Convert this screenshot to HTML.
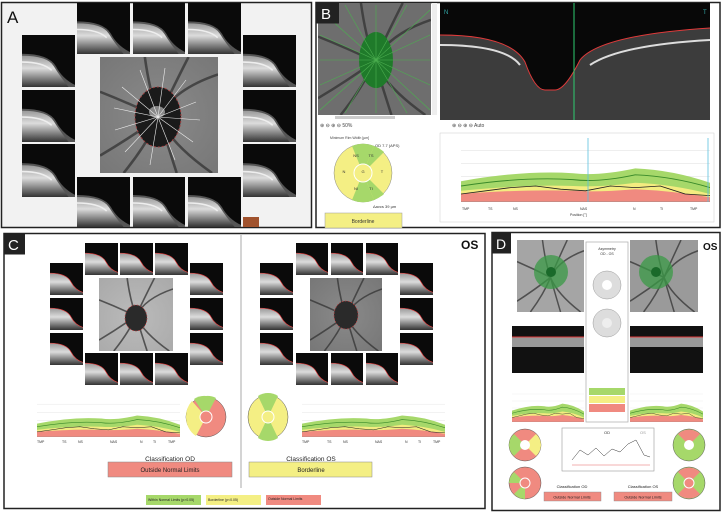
<!DOCTYPE html>
<html><head><meta charset="utf-8"><style>
html,body{margin:0;padding:0;background:#fff;}
svg{display:block;font-family:"Liberation Sans",sans-serif;}
</style></head><body>
<svg width="721" height="513" viewBox="0 0 721 513" xmlns="http://www.w3.org/2000/svg">
<defs>
<linearGradient id="band" x1="0" y1="0" x2="0" y2="1">
<stop offset="0" stop-color="#9a9a9a"/><stop offset="0.4" stop-color="#dcdcdc"/><stop offset="1" stop-color="#333"/>
</linearGradient>
<symbol id="oct" viewBox="0 0 50 50" preserveAspectRatio="none">
<rect width="50" height="50" fill="#0a0a0a"/>
<path d="M0 18 Q25 18 32 30 Q38 42 50 48 L50 50 L0 50 Z" fill="#555"/>
<path d="M0 20 Q24 20 30 30 Q36 40 44 50 L0 50 Z" fill="url(#band)"/>
<path d="M0 26 Q20 26 28 34" stroke="#eee" stroke-width="1.5" fill="none"/>
</symbol>
<symbol id="octr" viewBox="0 0 50 50" preserveAspectRatio="none">
<rect width="50" height="50" fill="#0a0a0a"/>
<path d="M0 16 Q25 16 32 30 Q38 42 50 46 L50 50 L0 50 Z" fill="url(#band)"/>
<path d="M0 16 Q25 16 32 30 Q38 42 50 46" stroke="#e04040" stroke-width="1" fill="none"/>
</symbol>
<symbol id="vess" viewBox="0 0 100 100" preserveAspectRatio="none">
<g stroke="#333" stroke-width="2.2" fill="none" opacity="0.75">
<path d="M50 52 Q42 30 38 0"/><path d="M50 52 Q60 30 75 0"/><path d="M50 52 Q62 28 100 15"/>
<path d="M50 52 Q40 75 20 100"/><path d="M50 52 Q58 78 65 100"/><path d="M50 52 Q60 75 95 100"/>
<path d="M50 52 Q25 40 0 30"/><path d="M50 52 Q25 70 0 85"/>
</g>
</symbol>
<radialGradient id="fund" cx="0.5" cy="0.5" r="0.7">
<stop offset="0" stop-color="#8a8a8a"/><stop offset="1" stop-color="#777"/>
</radialGradient>
<radialGradient id="fundL" cx="0.5" cy="0.55" r="0.7">
<stop offset="0" stop-color="#bbb"/><stop offset="1" stop-color="#aaa"/>
</radialGradient>
<symbol id="chart" viewBox="0 0 100 40" preserveAspectRatio="none">
<rect width="100" height="40" fill="#fff"/>
<g stroke="#ddd" stroke-width="0.3"><line x1="0" y1="8" x2="100" y2="8"/><line x1="0" y1="16" x2="100" y2="16"/><line x1="0" y1="24" x2="100" y2="24"/><line x1="0" y1="32" x2="100" y2="32"/></g>
<path d="M0 27 Q25 20 45 22 Q55 24 70 19 Q85 20 100 28 L100 40 L0 40 Z" fill="#a6d86a"/>
<path d="M0 33 Q25 29 45 30 Q55 31 70 28 Q85 29 100 35 L100 40 L0 40 Z" fill="#f4ec80"/>
<path d="M0 35 Q25 32 45 33 Q55 34 70 32 Q85 33 100 37 L100 40 L0 40 Z" fill="#f08a80"/>
<path d="M0 30 Q25 24 45 26 Q55 28 70 23 Q85 24 100 31" stroke="#3a8a2a" stroke-width="0.6" fill="none"/>
<path d="M0 35 L10 33 L20 31 L30 30 L40 32 L50 33 L60 30 L70 31 L80 30 L90 35 L100 36" stroke="#222" stroke-width="0.5" fill="none"/>
<line x1="0" y1="40" x2="100" y2="40" stroke="#888" stroke-width="0.5"/>
</symbol>
</defs>

<!-- Panel A -->
<rect x="1.5" y="2.5" width="310" height="225" fill="#f2f2f2" stroke="#222" stroke-width="1.5"/>
<text x="7" y="23" font-size="17" fill="#111">A</text>
<g>
<use href="#oct" x="77" y="3" width="53" height="51"/>
<use href="#oct" x="133" y="3" width="52" height="51"/>
<use href="#oct" x="188" y="3" width="53" height="51"/>
<use href="#oct" x="22" y="35" width="53" height="52"/>
<use href="#oct" x="22" y="90" width="53" height="52"/>
<use href="#oct" x="22" y="144" width="53" height="53"/>
<use href="#oct" x="243" y="35" width="53" height="52"/>
<use href="#oct" x="243" y="90" width="53" height="52"/>
<use href="#oct" x="243" y="144" width="53" height="53"/>
<use href="#oct" x="77" y="177" width="53" height="50"/>
<use href="#oct" x="133" y="177" width="52" height="50"/>
<use href="#oct" x="188" y="177" width="53" height="50"/>
</g>
<rect x="100" y="57" width="118" height="116" fill="url(#fund)"/>
<use href="#vess" x="100" y="57" width="118" height="116"/>
<ellipse cx="158" cy="117" rx="23" ry="30" fill="#1a1a1a" stroke="#a04040" stroke-width="1" stroke-dasharray="2 2"/>
<ellipse cx="157" cy="112" rx="8" ry="6" fill="#888"/>
<g stroke="#eee" stroke-width="0.6">
<line x1="158" y1="117" x2="140" y2="70"/><line x1="158" y1="117" x2="165" y2="68"/><line x1="158" y1="117" x2="186" y2="80"/><line x1="158" y1="117" x2="196" y2="102"/>
<line x1="158" y1="117" x2="200" y2="120"/><line x1="158" y1="117" x2="193" y2="142"/><line x1="158" y1="117" x2="175" y2="160"/><line x1="158" y1="117" x2="150" y2="165"/>
<line x1="158" y1="117" x2="125" y2="152"/><line x1="158" y1="117" x2="115" y2="130"/><line x1="158" y1="117" x2="114" y2="108"/><line x1="158" y1="117" x2="122" y2="87"/>
</g>
<rect x="243" y="217" width="16" height="10" fill="#a0522d"/>

<!-- Panel B -->
<rect x="316" y="2.5" width="404" height="225" fill="#fff" stroke="#222" stroke-width="1.5"/>
<rect x="318" y="3" width="113" height="112" fill="#6e6e6e"/>
<use href="#vess" x="318" y="3" width="113" height="112"/>
<ellipse cx="376" cy="60" rx="17" ry="28" fill="#1f7a2a"/>
<g stroke="#4caf50" stroke-width="0.6">
<line x1="376" y1="60" x2="320" y2="10"/><line x1="376" y1="60" x2="430" y2="10"/><line x1="376" y1="60" x2="320" y2="110"/><line x1="376" y1="60" x2="430" y2="110"/>
<line x1="376" y1="60" x2="376" y2="5"/><line x1="376" y1="60" x2="376" y2="113"/><line x1="376" y1="60" x2="320" y2="60"/><line x1="376" y1="60" x2="430" y2="60"/>
<line x1="376" y1="60" x2="345" y2="5"/><line x1="376" y1="60" x2="407" y2="5"/><line x1="376" y1="60" x2="345" y2="113"/><line x1="376" y1="60" x2="407" y2="113"/>
<line x1="376" y1="60" x2="320" y2="35"/><line x1="376" y1="60" x2="430" y2="35"/><line x1="376" y1="60" x2="320" y2="85"/><line x1="376" y1="60" x2="430" y2="85"/>
</g>
<rect x="316" y="2.5" width="23" height="21" fill="#222"/>
<text x="321" y="19" font-size="15" fill="#fff">B</text>
<rect x="432" y="3" width="5" height="112" fill="#eee"/>
<rect x="335" y="116" width="60" height="3" fill="#ccc"/>
<rect x="440" y="3" width="270" height="117" fill="#080808"/>
<path d="M440 35 Q510 35 525 62 Q535 90 545 90 L555 90 Q565 90 580 60 Q600 35 710 28 L710 120 L440 120 Z" fill="#3c3c3c"/>
<path d="M440 45 Q505 45 520 65" stroke="#ddd" stroke-width="2" fill="none"/>
<path d="M590 65 Q620 45 710 40" stroke="#ddd" stroke-width="2" fill="none"/>
<path d="M440 35 Q510 35 525 62 Q535 90 545 90 L555 90 Q565 90 580 60 Q600 35 710 28" stroke="#e03a3a" stroke-width="1" fill="none"/>
<line x1="574" y1="3" x2="574" y2="120" stroke="#2ecc71" stroke-width="1"/>
<text x="444" y="14" font-size="6" fill="#3aa">N</text><text x="703" y="14" font-size="6" fill="#3aa">T</text>
<rect x="440" y="133" width="274" height="89" fill="#fff" stroke="#ccc" stroke-width="0.5"/>
<use href="#chart" x="461" y="138" width="249" height="64"/>
<line x1="588" y1="138" x2="588" y2="202" stroke="#5bc0de" stroke-width="0.8"/>
<line x1="708" y1="138" x2="708" y2="202" stroke="#5bc0de" stroke-width="0.8"/>
<g font-size="3.5" fill="#333"><text x="462" y="210">TMP</text><text x="488" y="210">TS</text><text x="513" y="210">NS</text><text x="580" y="210">NAS</text><text x="633" y="210">N</text><text x="660" y="210">TI</text><text x="690" y="210">TMP</text><text x="570" y="216">Position [°]</text></g>
<text x="320" y="127" font-size="5" fill="#444">⊕ ⊖ ⊕ ⊖  50%</text>
<text x="452" y="127" font-size="5" fill="#444">⊕ ⊖ ⊕ ⊖  Auto</text>
<text x="330" y="139" font-size="3.5" fill="#444">Minimum Rim Width [µm]</text>
<text x="375" y="147" font-size="4" fill="#333">OD 7.7 (APS)</text>
<circle cx="363" cy="173" r="29" fill="#f4ef84" stroke="#888" stroke-width="0.5"/>
<path d="M363 173 L352 146 A29 29 0 0 1 374 146 Z" fill="#a6d86a"/>
<path d="M363 173 L374 146 A29 29 0 0 1 384 152 Z" fill="#a6d86a"/>
<path d="M363 173 L352 200 A29 29 0 0 0 374 200 Z" fill="#a6d86a"/>
<path d="M363 173 L374 200 A29 29 0 0 0 384 194 Z" fill="#a6d86a"/>
<circle cx="363" cy="173" r="9" fill="#f4ef84" stroke="#fff"/>
<g font-size="4" fill="#333" text-anchor="middle"><text x="356" y="157">NS</text><text x="371" y="157">TS</text><text x="344" y="173">N</text><text x="363" y="173">G</text><text x="382" y="173">T</text><text x="356" y="190">NI</text><text x="371" y="190">TI</text></g>
<text x="373" y="208" font-size="4" fill="#333">Δavcs 39 µm</text>
<rect x="325" y="213" width="77" height="15" fill="#f4ef84" stroke="#999" stroke-width="0.5"/>
<text x="363" y="223" font-size="5" fill="#333" text-anchor="middle">Borderline</text>

<!-- Panel C -->
<rect x="4" y="233.5" width="481" height="275" fill="#fff" stroke="#222" stroke-width="1.5"/>
<rect x="4" y="233.5" width="21" height="21" fill="#222"/>
<text x="8" y="250" font-size="15" fill="#fff">C</text>
<text x="461" y="249" font-size="12" font-weight="bold" fill="#111">OS</text>
<line x1="241" y1="235" x2="241" y2="488" stroke="#aaa" stroke-width="1"/>
<g>
<use href="#octr" x="85" y="243" width="33" height="32"/><use href="#octr" x="120" y="243" width="33" height="32"/><use href="#octr" x="155" y="243" width="33" height="32"/>
<use href="#octr" x="50" y="263" width="33" height="32"/><use href="#octr" x="50" y="298" width="33" height="32"/><use href="#octr" x="50" y="333" width="33" height="32"/>
<use href="#octr" x="190" y="263" width="33" height="32"/><use href="#octr" x="190" y="298" width="33" height="32"/><use href="#octr" x="190" y="333" width="33" height="32"/>
<use href="#octr" x="85" y="353" width="33" height="32"/><use href="#octr" x="120" y="353" width="33" height="32"/><use href="#octr" x="155" y="353" width="33" height="32"/>
</g>
<rect x="99" y="278" width="74" height="73" fill="url(#fundL)"/>
<use href="#vess" x="99" y="278" width="74" height="73"/>
<ellipse cx="136" cy="318" rx="11" ry="13" fill="#2a2a2a" stroke="#c04040" stroke-width="0.7" stroke-dasharray="1.5 1.5"/>
<g>
<use href="#octr" x="296" y="243" width="32" height="32"/><use href="#octr" x="331" y="243" width="32" height="32"/><use href="#octr" x="366" y="243" width="32" height="32"/>
<use href="#octr" x="260" y="263" width="33" height="32"/><use href="#octr" x="260" y="298" width="33" height="32"/><use href="#octr" x="260" y="333" width="33" height="32"/>
<use href="#octr" x="400" y="263" width="33" height="32"/><use href="#octr" x="400" y="298" width="33" height="32"/><use href="#octr" x="400" y="333" width="33" height="32"/>
<use href="#octr" x="296" y="353" width="32" height="32"/><use href="#octr" x="331" y="353" width="32" height="32"/><use href="#octr" x="366" y="353" width="32" height="32"/>
</g>
<rect x="310" y="278" width="72" height="73" fill="url(#fund)"/>
<use href="#vess" x="310" y="278" width="72" height="73"/>
<ellipse cx="346" cy="315" rx="12" ry="14" fill="#2a2a2a" stroke="#c04040" stroke-width="0.7" stroke-dasharray="1.5 1.5"/>
<use href="#chart" x="37" y="396" width="143" height="41"/>
<use href="#chart" x="302" y="396" width="143" height="41"/>
<g font-size="3.5" fill="#333"><text x="37" y="443">TMP</text><text x="62" y="443">TS</text><text x="78" y="443">NS</text><text x="110" y="443">NAS</text><text x="140" y="443">N</text><text x="153" y="443">TI</text><text x="168" y="443">TMP</text>
<text x="302" y="443">TMP</text><text x="327" y="443">TS</text><text x="343" y="443">NS</text><text x="375" y="443">NAS</text><text x="405" y="443">N</text><text x="418" y="443">TI</text><text x="433" y="443">TMP</text></g>
<circle cx="206" cy="417" r="20" fill="#f08a80" stroke="#555" stroke-width="0.5"/>
<path d="M206 417 L194 399 A20 22 0 0 1 206 396 Z" fill="#a6d86a"/>
<path d="M206 417 L206 396 A20 22 0 0 1 216 398 Z" fill="#a6d86a"/>
<path d="M206 417 L186 417 A20 22 0 0 1 192 401 Z" fill="#f4ef84"/>
<path d="M206 417 L186 417 A20 22 0 0 0 196 436 Z" fill="#f4ef84"/>
<circle cx="206" cy="417" r="6" fill="#f08a80" stroke="#fff"/>
<ellipse cx="268" cy="417" rx="20" ry="22" fill="#f4ef84" stroke="#555" stroke-width="0.5"/>
<path d="M268 417 L258 396 A20 22 0 0 1 278 396 Z" fill="#a6d86a"/>
<path d="M268 417 L258 438 A20 22 0 0 0 278 438 Z" fill="#a6d86a"/>
<circle cx="268" cy="417" r="6" fill="#f4ef84" stroke="#fff"/>
<text x="170" y="461" font-size="6.5" fill="#222" text-anchor="middle">Classification OD</text>
<rect x="108" y="462" width="124" height="15" fill="#f08a80" stroke="#888" stroke-width="0.5"/>
<text x="170" y="472" font-size="6" fill="#222" text-anchor="middle">Outside Normal Limits</text>
<text x="311" y="461" font-size="6.5" fill="#222" text-anchor="middle">Classification OS</text>
<rect x="249" y="462" width="123" height="15" fill="#f4ef84" stroke="#888" stroke-width="0.5"/>
<text x="311" y="472" font-size="6" fill="#222" text-anchor="middle">Borderline</text>
<rect x="146" y="495" width="55" height="10" fill="#a6d86a"/><text x="148" y="501" font-size="3.5" fill="#222">Within Normal Limits (p&gt;0.05)</text>
<rect x="206" y="495" width="55" height="10" fill="#f4ef84"/><text x="208" y="501" font-size="3.5" fill="#222">Borderline (p&lt;0.05)</text>
<rect x="266" y="495" width="55" height="10" fill="#f08a80"/><text x="268" y="500" font-size="3.5" fill="#222">Outside Normal Limits</text>

<!-- Panel D -->
<rect x="492" y="232.5" width="228" height="278" fill="#fff" stroke="#222" stroke-width="1.5"/>
<rect x="492" y="232.5" width="19" height="21" fill="#222"/>
<text x="496" y="249" font-size="14" fill="#fff">D</text>
<text x="703" y="250" font-size="10" font-weight="bold" fill="#111">OS</text>
<rect x="517" y="240" width="67" height="72" fill="#a5a5a5"/>
<use href="#vess" x="517" y="240" width="67" height="72"/>
<circle cx="551" cy="272" r="17" fill="#3a9a45" opacity="0.75"/>
<circle cx="551" cy="272" r="5" fill="#1a6a2a"/>
<rect x="630" y="240" width="68" height="72" fill="#9a9a9a"/>
<use href="#vess" x="630" y="240" width="68" height="72"/>
<circle cx="656" cy="272" r="17" fill="#3a9a45" opacity="0.75"/>
<circle cx="656" cy="272" r="5" fill="#1a6a2a"/>
<rect x="586" y="242" width="42" height="180" fill="#fff" stroke="#aaa" stroke-width="0.7"/>
<text x="607" y="250" font-size="3.5" fill="#333" text-anchor="middle">Asymmetry</text>
<text x="607" y="255" font-size="3.5" fill="#333" text-anchor="middle">OD - OS</text>
<circle cx="607" cy="285" r="14" fill="#ddd" stroke="#999" stroke-width="0.5"/><circle cx="607" cy="285" r="5" fill="#fff"/>
<circle cx="607" cy="323" r="14" fill="#ddd" stroke="#999" stroke-width="0.5"/><circle cx="607" cy="323" r="5" fill="#eee"/>
<rect x="512" y="326" width="72" height="47" fill="#111"/>
<rect x="512" y="337" width="72" height="10" fill="#999"/><line x1="512" y1="337" x2="584" y2="337" stroke="#e03a3a"/>
<rect x="630" y="326" width="73" height="47" fill="#111"/>
<rect x="630" y="337" width="73" height="10" fill="#999"/><line x1="630" y1="337" x2="703" y2="337" stroke="#e03a3a"/>
<use href="#chart" x="512" y="387" width="72" height="35"/>
<use href="#chart" x="630" y="387" width="73" height="35"/>
<rect x="589" y="388" width="36" height="7" fill="#a6d86a"/>
<rect x="589" y="396" width="36" height="7" fill="#f4ef84"/>
<rect x="589" y="404" width="36" height="8" fill="#f08a80"/>
<circle cx="525" cy="445" r="16" fill="#f08a80" stroke="#555" stroke-width="0.5"/>
<path d="M525 445 L509 445 A16 16 0 0 1 514 434 Z" fill="#a6d86a"/><path d="M525 445 L509 445 A16 16 0 0 0 514 456 Z" fill="#a6d86a"/>
<path d="M525 445 L541 445 A16 16 0 0 0 536 434 Z" fill="#f4ef84"/><path d="M525 445 L541 445 A16 16 0 0 1 536 456 Z" fill="#f4ef84"/>
<circle cx="525" cy="445" r="5" fill="#fff"/>
<circle cx="525" cy="483" r="16" fill="#f08a80" stroke="#555" stroke-width="0.5"/>
<path d="M525 483 L509 483 A16 16 0 0 1 514 472 Z" fill="#a6d86a"/><path d="M525 483 L525 499 A16 16 0 0 1 514 494 Z" fill="#a6d86a"/>
<circle cx="525" cy="483" r="5" fill="#f08a80" stroke="#fff"/>
<circle cx="689" cy="445" r="16" fill="#a6d86a" stroke="#555" stroke-width="0.5"/>
<path d="M689 445 L678 434 A16 16 0 0 1 700 434 Z" fill="#f08a80"/>
<circle cx="689" cy="445" r="5" fill="#fff"/>
<circle cx="689" cy="483" r="16" fill="#a6d86a" stroke="#555" stroke-width="0.5"/>
<path d="M689 483 L678 472 A16 16 0 0 1 700 472 Z" fill="#f08a80"/><path d="M689 483 L678 494 A16 16 0 0 0 700 494 Z" fill="#f08a80"/>
<circle cx="689" cy="483" r="5" fill="#f08a80" stroke="#fff"/>
<rect x="562" y="428" width="92" height="43" fill="#fff" stroke="#999" stroke-width="0.6"/>
<text x="604" y="434" font-size="4" fill="#333">OD</text><text x="640" y="434" font-size="4" fill="#999">OS</text>
<path d="M572 460 L580 450 L588 455 L596 448 L604 456 L612 449 L620 452 L628 444 L636 440 L644 455 L650 457" stroke="#333" stroke-width="0.5" fill="none"/>
<line x1="572" y1="465" x2="650" y2="465" stroke="#e03a3a" stroke-width="0.4"/>
<text x="572" y="488" font-size="4" fill="#222" text-anchor="middle">Classification OD</text>
<rect x="544" y="492" width="57" height="9" fill="#f08a80" stroke="#888" stroke-width="0.4"/>
<text x="572" y="498.5" font-size="3.8" fill="#222" text-anchor="middle">Outside Normal Limits</text>
<text x="643" y="488" font-size="4" fill="#222" text-anchor="middle">Classification OS</text>
<rect x="614" y="492" width="58" height="9" fill="#f08a80" stroke="#888" stroke-width="0.4"/>
<text x="643" y="498.5" font-size="3.8" fill="#222" text-anchor="middle">Outside Normal Limits</text>
</svg>
</body></html>
